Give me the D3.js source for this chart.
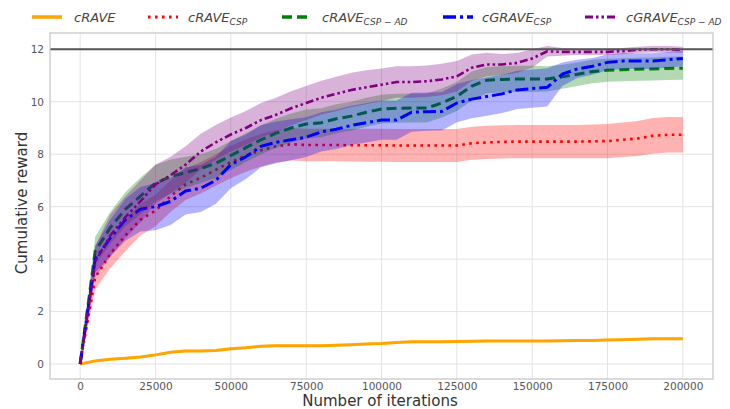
<!DOCTYPE html>
<html>
<head>
<meta charset="utf-8">
<script src="https://cdn.jsdelivr.net/npm/d3@7/dist/d3.min.js"></script>
<style>
  body { margin: 0; background: #fff; }
  svg { display: block; }
</style>
</head>
<body>
<svg id="chart" width="730" height="409"></svg>
<script>
// Iteration checkpoints (every 5000 iterations)
const iterations = d3.range(0, 200001, 5000);

// Mean cumulative reward per method
const cRAVE = [0, 0.12, 0.18, 0.22, 0.27, 0.35, 0.45, 0.5, 0.5, 0.52, 0.58, 0.62, 0.68, 0.7, 0.7, 0.7, 0.7, 0.72, 0.74, 0.76, 0.78, 0.82, 0.85, 0.85, 0.85, 0.86, 0.87, 0.88, 0.88, 0.88, 0.88, 0.88, 0.89, 0.9, 0.9, 0.92, 0.93, 0.95, 0.96, 0.96, 0.96];
const cRAVE_CSP = [0, 3.3, 4.2, 4.9, 5.5, 5.85, 6.4, 6.85, 7.1, 7.4, 7.7, 7.95, 8.15, 8.3, 8.38, 8.35, 8.35, 8.35, 8.34, 8.34, 8.34, 8.33, 8.33, 8.33, 8.33, 8.33, 8.42, 8.45, 8.47, 8.48, 8.48, 8.48, 8.48, 8.48, 8.49, 8.5, 8.55, 8.6, 8.7, 8.74, 8.74];
const cRAVE_CSP_AD = [0, 4.3, 5.2, 5.9, 6.4, 6.9, 7.15, 7.3, 7.45, 7.65, 7.95, 8.25, 8.55, 8.8, 9.0, 9.15, 9.2, 9.35, 9.45, 9.6, 9.72, 9.75, 9.76, 9.76, 9.95, 10.2, 10.6, 10.82, 10.85, 10.87, 10.87, 10.87, 10.95, 11.05, 11.15, 11.2, 11.22, 11.24, 11.25, 11.27, 11.28];
const cGRAVE_CSP = [0, 4.0, 4.8, 5.5, 5.9, 6.0, 6.2, 6.6, 6.7, 7.0, 7.6, 7.9, 8.3, 8.45, 8.55, 8.65, 8.85, 8.95, 9.1, 9.2, 9.3, 9.3, 9.6, 9.62, 9.63, 9.95, 10.1, 10.2, 10.3, 10.45, 10.5, 10.55, 11.05, 11.25, 11.35, 11.5, 11.55, 11.55, 11.55, 11.6, 11.65];
const cGRAVE_CSP_AD = [0, 3.9, 4.9, 5.6, 6.2, 6.85, 7.2, 7.6, 8.1, 8.45, 8.75, 9.0, 9.3, 9.5, 9.75, 9.95, 10.15, 10.3, 10.45, 10.55, 10.65, 10.75, 10.75, 10.78, 10.85, 10.97, 11.3, 11.42, 11.42, 11.48, 11.65, 11.92, 11.9, 11.9, 11.9, 11.9, 11.93, 11.98, 12.0, 12.0, 11.98];

// Standard deviation per method
const cRAVE_sd = [0, 0.03, 0.04, 0.05, 0.05, 0.05, 0.05, 0.05, 0.05, 0.05, 0.05, 0.05, 0.05, 0.05, 0.05, 0.05, 0.05, 0.05, 0.05, 0.05, 0.05, 0.05, 0.05, 0.05, 0.05, 0.05, 0.05, 0.05, 0.05, 0.05, 0.05, 0.05, 0.05, 0.05, 0.05, 0.05, 0.05, 0.05, 0.05, 0.05, 0.05];
const cRAVE_CSP_sd = [0, 0.45, 0.55, 0.6, 0.6, 0.6, 0.6, 0.6, 0.6, 0.6, 0.62, 0.62, 0.62, 0.62, 0.62, 0.62, 0.62, 0.62, 0.62, 0.63, 0.63, 0.63, 0.63, 0.63, 0.63, 0.63, 0.63, 0.63, 0.63, 0.63, 0.63, 0.63, 0.63, 0.63, 0.64, 0.65, 0.66, 0.67, 0.68, 0.68, 0.68];
const cRAVE_CSP_AD_sd = [0, 0.55, 0.6, 0.65, 0.7, 0.7, 0.65, 0.6, 0.55, 0.55, 0.55, 0.55, 0.55, 0.55, 0.55, 0.55, 0.55, 0.55, 0.55, 0.55, 0.55, 0.55, 0.55, 0.55, 0.55, 0.55, 0.55, 0.5, 0.5, 0.5, 0.5, 0.48, 0.46, 0.45, 0.45, 0.44, 0.44, 0.44, 0.44, 0.44, 0.44];
const cGRAVE_CSP_sd = [0, 0.5, 0.7, 0.8, 0.85, 0.9, 0.9, 0.9, 0.9, 0.9, 0.9, 0.85, 0.8, 0.8, 0.78, 0.76, 0.75, 0.75, 0.75, 0.75, 0.75, 0.75, 0.74, 0.73, 0.73, 0.73, 0.73, 0.73, 0.73, 0.73, 0.73, 0.73, 0.45, 0.35, 0.32, 0.3, 0.3, 0.3, 0.3, 0.3, 0.3];
const cGRAVE_CSP_AD_sd = [0, 0.6, 0.8, 0.8, 0.8, 0.75, 0.7, 0.7, 0.68, 0.66, 0.65, 0.65, 0.65, 0.65, 0.65, 0.65, 0.65, 0.65, 0.65, 0.65, 0.62, 0.6, 0.6, 0.6, 0.6, 0.58, 0.5, 0.45, 0.4, 0.38, 0.35, 0.2, 0.15, 0.12, 0.12, 0.12, 0.12, 0.12, 0.12, 0.12, 0.12];

const yTicks = [0, 2, 4, 6, 8, 10, 12];
const xTicks = [0, 25000, 50000, 75000, 100000, 125000, 150000, 175000, 200000];
const targetReward = 12;

const series = [
  { label: "cRAVE", sub: "", mean: cRAVE, sd: cRAVE_sd, color: "#ffa500", dash: null, width: 3 },
  { label: "cRAVE", sub: "CSP", mean: cRAVE_CSP, sd: cRAVE_CSP_sd, color: "#ff0000", dash: "2.6,4.4", width: 2.6 },
  { label: "cRAVE", sub: "CSP − AD", mean: cRAVE_CSP_AD, sd: cRAVE_CSP_AD_sd, color: "#008000", dash: "10,5", width: 3 },
  { label: "cGRAVE", sub: "CSP", mean: cGRAVE_CSP, sd: cGRAVE_CSP_sd, color: "#0000ff", dash: "13,4,3,4", width: 3 },
  { label: "cGRAVE", sub: "CSP − AD", mean: cGRAVE_CSP_AD, sd: cGRAVE_CSP_AD_sd, color: "#800080", dash: "8,3,2.5,3,2.5,3", width: 2.6 }
];

const svg = d3.select("#chart");
const plot = { left: 50, right: 713, top: 33, bottom: 379 };

const x = d3.scaleLinear().domain([-10000, 210000]).range([plot.left, plot.right]);
const y = d3.scaleLinear().domain([-0.57, 12.62]).range([plot.bottom, plot.top]);

// Grid
const grid = svg.append("g");
grid.selectAll("line.gx").data(xTicks).join("line")
  .attr("x1", d => x(d)).attr("x2", d => x(d))
  .attr("y1", plot.top).attr("y2", plot.bottom)
  .attr("stroke", "#e3e3e3").attr("stroke-width", 1);
grid.selectAll("line.gy").data(yTicks).join("line")
  .attr("x1", plot.left).attr("x2", plot.right)
  .attr("y1", d => y(d)).attr("y2", d => y(d))
  .attr("stroke", "#e3e3e3").attr("stroke-width", 1);

// Clip region for data
svg.append("clipPath").attr("id", "clip")
  .append("rect").attr("x", plot.left).attr("y", plot.top)
  .attr("width", plot.right - plot.left).attr("height", plot.bottom - plot.top);

const data = svg.append("g").attr("clip-path", "url(#clip)");

const area = d3.area()
  .x((d, i) => x(iterations[i]))
  .y0(d => y(d[0] - d[1]))
  .y1(d => y(d[0] + d[1]));
const line = d3.line()
  .x((d, i) => x(iterations[i]))
  .y(d => y(d));

series.forEach(s => {
  const pairs = s.mean.map((m, i) => [m, s.sd[i]]);
  data.append("path").attr("d", area(pairs))
    .attr("fill", s.color).attr("fill-opacity", 0.3).attr("stroke", "none");
  data.append("path").attr("d", line(s.mean))
    .attr("fill", "none").attr("stroke", s.color)
    .attr("stroke-width", s.width)
    .attr("stroke-dasharray", s.dash);
});

// Target reward line
svg.append("line")
  .attr("x1", plot.left).attr("x2", plot.right)
  .attr("y1", y(targetReward)).attr("y2", y(targetReward))
  .attr("stroke", "#555").attr("stroke-width", 1.8);

// Frame
svg.append("rect")
  .attr("x", plot.left).attr("y", plot.top)
  .attr("width", plot.right - plot.left).attr("height", plot.bottom - plot.top)
  .attr("fill", "none").attr("stroke", "#c4c4c4").attr("stroke-width", 1.2);

// Axes (labels only, no tick marks)
const xAxis = d3.axisBottom(x).tickValues(xTicks).tickSize(0).tickPadding(4).tickFormat(d3.format("d"));
const yAxis = d3.axisLeft(y).tickValues(yTicks).tickSize(0).tickPadding(6).tickFormat(d3.format("d"));

const gx = svg.append("g").attr("transform", `translate(0,${plot.bottom})`).call(xAxis);
const gy = svg.append("g").attr("transform", `translate(${plot.left},0)`).call(yAxis);
[gx, gy].forEach(g => {
  g.select(".domain").remove();
  g.selectAll("text").attr("fill", "#555").style("font-family", "DejaVu Sans, sans-serif").style("font-size", "10.5px");
});

// Axis titles
svg.append("text")
  .attr("x", 380).attr("y", 406)
  .attr("text-anchor", "middle")
  .style("font-family", "DejaVu Sans, sans-serif").style("font-size", "15px")
  .attr("fill", "#333")
  .text("Number of iterations");
svg.append("text")
  .attr("transform", "translate(27,203) rotate(-90)")
  .attr("text-anchor", "middle")
  .style("font-family", "DejaVu Sans, sans-serif").style("font-size", "15px")
  .attr("fill", "#333")
  .text("Cumulative reward");

// Legend
const legendPos = [
  { lx: 32, tx: 74 },
  { lx: 148, tx: 188 },
  { lx: 282, tx: 322 },
  { lx: 443, tx: 482 },
  { lx: 585, tx: 626 }
];
const legend = svg.append("g");
series.forEach((s, i) => {
  const p = legendPos[i];
  legend.append("line")
    .attr("x1", p.lx).attr("x2", p.lx + 30)
    .attr("y1", 17).attr("y2", 17)
    .attr("stroke", s.color).attr("stroke-width", s.width + 0.5)
    .attr("stroke-dasharray", s.dash);
  const t = legend.append("text")
    .attr("x", p.tx).attr("y", 22)
    .style("font-family", "DejaVu Sans, sans-serif")
    .style("font-size", "13px").style("font-style", "italic")
    .attr("fill", "#444");
  t.append("tspan").text(s.label);
  if (s.sub) {
    t.append("tspan").attr("dy", 3).style("font-size", "9px").text(s.sub);
  }
});
</script>
</body>
</html>
